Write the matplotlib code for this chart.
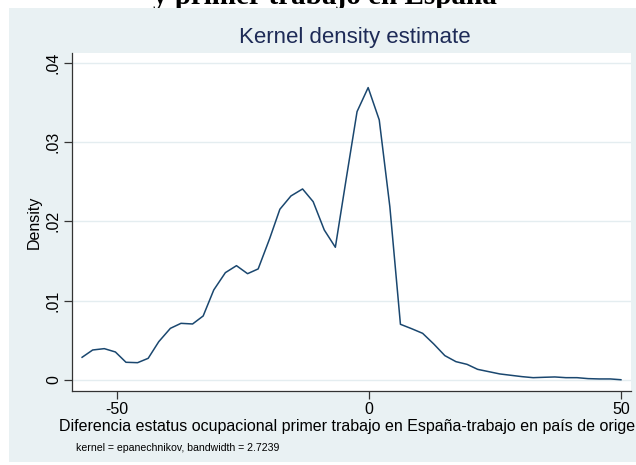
import matplotlib
matplotlib.use("Agg")
import matplotlib.pyplot as plt
from matplotlib.patches import Rectangle

# Data (kernel density estimate, 50 evaluation points)
x_vals = [-56.9, -54.8, -52.5, -50.3, -48.2, -45.9, -43.8, -41.7, -39.4, -37.3,
          -35.0, -32.9, -30.8, -28.5, -26.3, -24.1, -22.0, -19.7, -17.7, -15.5,
          -13.2, -11.1, -8.9, -6.7, -4.5, -2.4, -0.2, 2.0, 4.1, 6.2,
          8.4, 10.6, 12.8, 15.0, 17.2, 19.4, 21.5, 23.7, 25.9, 28.1,
          30.3, 32.5, 34.7, 36.8, 39.0, 41.2, 43.4, 45.6, 47.8, 49.9]
density = [0.00286, 0.00378, 0.00395, 0.00353, 0.00223, 0.00218, 0.00273, 0.00483, 0.00651, 0.00714,
           0.00706, 0.00807, 0.01135, 0.01353, 0.01441, 0.01340, 0.01400, 0.01786, 0.02152, 0.02320,
           0.02408, 0.02248, 0.01891, 0.01673, 0.02555, 0.03383, 0.03686, 0.03278, 0.02185, 0.00702,
           0.00647, 0.00588, 0.00454, 0.00307, 0.00231, 0.00197, 0.00134, 0.00105, 0.00076, 0.00059,
           0.00042, 0.00029, 0.00034, 0.00038, 0.00029, 0.00029, 0.00017, 0.00013, 0.00013, 0.00003]
x_ticks = [-50, 0, 50]
x_ticklabels = ["-50", "0", "50"]
y_ticks = [0, 0.01, 0.02, 0.03, 0.04]
y_ticklabels = ["0", ".01", ".02", ".03", ".04"]

title = "Kernel density estimate"
x_label = "Diferencia estatus ocupacional primer trabajo en España-trabajo en país de origen"
y_label = "Density"
note = "kernel = epanechnikov, bandwidth = 2.7239"
top_text = "y primer trabajo en España"

W, H = 636, 465
fig = plt.figure(figsize=(W / 100, H / 100), dpi=100)
fig.patch.set_facecolor("white")
plt.rcParams["font.family"] = ["Liberation Sans", "DejaVu Sans"]

bg = "#E9F1F3"
fig.patches.append(Rectangle((9 / W, 1 - 462 / H), (W - 9) / W, (462 - 8) / H,
                             transform=fig.transFigure, facecolor=bg, edgecolor="none", zorder=-5))

# cropped heading above the graph
fig.text(325 / W, 1 - 4 / H, top_text, ha="center", va="baseline",
         family=["Liberation Serif", "DejaVu Serif"], fontweight="bold", fontsize=21, color="black",
         zorder=-10)

L, R, T, B = 72, 631, 53, 391
ax = fig.add_axes([L / W, 1 - B / H, (R - L) / W, (B - T) / H])
ax.set_zorder(2)
ax.set_facecolor("white")
ax.plot(x_vals, density, color="#1A476F", linewidth=1.1, zorder=3)

ax.set_xlim(-58.9, 51.9)
ax.set_ylim(-0.00139, 0.04122)
ax.set_xticks(x_ticks)
ax.set_xticklabels(x_ticklabels, fontsize=11.5)
ax.set_yticks(y_ticks)
ax.set_yticklabels(y_ticklabels, fontsize=11.5, rotation=90, va="center")
ax.grid(axis="y", color="#E4EDF0", linewidth=1.0)
ax.grid(axis="x", visible=False)
ax.set_axisbelow(True)
for s in ["top", "right"]:
    ax.spines[s].set_visible(False)
for s in ["left", "bottom"]:
    ax.spines[s].set_color("#333333")
    ax.spines[s].set_linewidth(0.9)
ax.tick_params(axis="both", length=6, width=0.9, color="#333333", pad=2, labelcolor="black")

ax.set_ylabel(y_label, fontsize=11.5, labelpad=3)
ax.set_xlabel(x_label, fontsize=11.5, labelpad=1)

fig.text(355 / W, 1 - 43 / H, title, ha="center", va="baseline", fontsize=16, color="#1E2B57")
fig.text(76 / W, 1 - 448 / H, note, ha="left", va="center", fontsize=7.6, color="black")

fig.savefig("out.png", dpi=100, facecolor=fig.get_facecolor())
